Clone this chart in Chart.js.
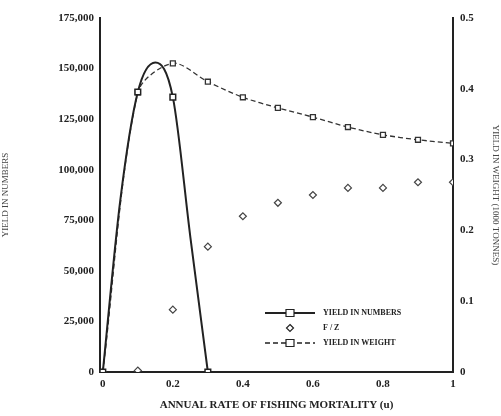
<!DOCTYPE html>
<html>
<head>
<meta charset="utf-8">
<script src="https://cdn.jsdelivr.net/npm/chart.js@4"></script>
<style>
  html, body { margin: 0; padding: 0; background: #fff; }
  #wrap { width: 501px; height: 416px; }
</style>
</head>
<body>
<div id="wrap"><canvas id="chart" width="501" height="416"></canvas></div>
<script>
// fishing mortality (u) grid
const mortality = [0, 0.1, 0.2, 0.3, 0.4, 0.5, 0.6, 0.7, 0.8, 0.9, 1];
// yield in numbers curve (left axis)
const numbersX = [0, 0.05, 0.1, 0.15, 0.2, 0.25, 0.3];
const numbersY = [0, 85000, 138400, 153000, 135900, 66700, 0];
const numbersMarked = [true, false, true, false, true, false, true];
// right axis series
const weightY = [0, 0.395, 0.436, 0.41, 0.388, 0.373, 0.36, 0.346, 0.335, 0.328, 0.323];
const ratioY = [0, 0.002, 0.088, 0.177, 0.22, 0.239, 0.25, 0.26, 0.26, 0.268, 0.268];

const leftTicks = [0, 25000, 50000, 75000, 100000, 125000, 150000, 175000];
const rightTicks = [0, 0.1, 0.2, 0.3, 0.4, 0.5];
const xTicks = [0, 0.2, 0.4, 0.6, 0.8, 1];

const legendLabels = ['YIELD IN NUMBERS', 'F / Z', 'YIELD IN WEIGHT'];

const ink = '#222';
const font = { family: 'Liberation Serif', size: 11, weight: 'bold' };

const pts = (xs, ys) => xs.map((x, i) => ({ x, y: ys[i] }));

const legendInside = {
    id: 'legendInside',
    afterDraw(chart) {
        const { ctx } = chart;
        const x0 = 265, x1 = 315, tx = 323;
        const rows = [313, 328, 343];
        ctx.save();
        ctx.font = 'bold 8px "Liberation Serif"';
        ctx.textBaseline = 'middle';
        chart.data.datasets.forEach((ds, i) => {
            const y = rows[i];
            ctx.strokeStyle = ink;
            if (ds.showLine !== false) {
                ctx.lineWidth = ds.borderWidth;
                ctx.setLineDash(ds.borderDash || []);
                ctx.beginPath();
                ctx.moveTo(x0, y);
                ctx.lineTo(x1, y);
                ctx.stroke();
            }
            ctx.setLineDash([]);
            ctx.lineWidth = 1.2;
            ctx.fillStyle = '#fff';
            ctx.beginPath();
            if (ds.pointStyle === 'rectRot') {
                ctx.moveTo(290, y - 3.5); ctx.lineTo(293.5, y);
                ctx.lineTo(290, y + 3.5); ctx.lineTo(286.5, y);
                ctx.closePath();
            } else {
                ctx.rect(286, y - 3.5, 8, 7);
            }
            ctx.fill();
            ctx.stroke();
            ctx.fillStyle = ink;
            ctx.fillText(legendLabels[i], tx, y);
        });
        ctx.restore();
    }
};

new Chart(document.getElementById('chart'), {
    type: 'line',
    data: {
        datasets: [
            {
                label: legendLabels[0],
                data: pts(numbersX, numbersY),
                yAxisID: 'y',
                borderColor: ink,
                borderWidth: 2,
                cubicInterpolationMode: 'monotone',
                pointStyle: 'rect',
                pointRadius: numbersMarked.map(m => (m ? 4 : 0)),
                pointBackgroundColor: '#fff',
                pointBorderColor: ink,
                pointBorderWidth: 1.5
            },
            {
                label: legendLabels[1],
                data: pts(mortality, ratioY),
                yAxisID: 'y1',
                showLine: false,
                borderColor: ink,
                borderWidth: 1,
                pointStyle: 'rectRot',
                pointRadius: 3.5,
                pointBackgroundColor: '#fff',
                pointBorderColor: '#444',
                pointBorderWidth: 1.2
            },
            {
                label: legendLabels[2],
                data: pts(mortality, weightY),
                yAxisID: 'y1',
                borderColor: '#333',
                borderWidth: 1.3,
                borderDash: [5, 3],
                tension: 0.3,
                pointStyle: 'rect',
                pointRadius: 3.5,
                pointBackgroundColor: '#fff',
                pointBorderColor: '#333',
                pointBorderWidth: 1.3
            }
        ]
    },
    options: {
        responsive: false,
        animation: false,
        layout: { padding: { top: 18, left: 0, right: 0, bottom: 0 } },
        plugins: {
            legend: { display: false },
            tooltip: { enabled: false }
        },
        scales: {
            x: {
                type: 'linear',
                min: -0.008,
                max: 1,
                afterBuildTicks: (s) => { s.ticks = xTicks.map(v => ({ value: v })); },
                afterFit: (s) => { s.height = 44; },
                grid: { display: false, drawTicks: true, tickLength: 4, color: ink },
                border: { color: ink, width: 2 },
                ticks: { color: ink, font, padding: 2, maxRotation: 0, callback: (v) => String(v) },
                title: {
                    display: true,
                    text: 'ANNUAL RATE OF FISHING MORTALITY (u)',
                    color: ink,
                    font: { family: 'Liberation Serif', size: 11, weight: 'bold' },
                    padding: { top: 0, bottom: 4 }
                }
            },
            y: {
                position: 'left',
                min: 0,
                max: 175000,
                afterBuildTicks: (s) => { s.ticks = leftTicks.map(v => ({ value: v })); },
                afterFit: (s) => { s.width = 100; },
                grid: { display: false, tickLength: 5, color: ink },
                border: { color: ink, width: 2 },
                ticks: {
                    color: ink,
                    font,
                    padding: 1,
                    callback: (v) => v.toLocaleString('en-US')
                },
                title: {
                    display: true,
                    text: 'YIELD IN NUMBERS',
                    color: '#444',
                    font: { family: 'Liberation Serif', size: 9 },
                    padding: 0
                }
            },
            y1: {
                position: 'right',
                min: 0,
                max: 0.5,
                afterBuildTicks: (s) => { s.ticks = rightTicks.map(v => ({ value: v })); },
                afterFit: (s) => { s.width = 48; },
                grid: { display: false, tickLength: 5, color: ink },
                border: { color: ink, width: 2 },
                ticks: { color: ink, font, padding: 2 },
                title: {
                    display: true,
                    text: 'YIELD IN WEIGHT (1000 TONNES)',
                    color: '#444',
                    font: { family: 'Liberation Serif', size: 9 },
                    padding: 0
                }
            }
        }
    },
    plugins: [legendInside]
});
</script>
</body>
</html>
